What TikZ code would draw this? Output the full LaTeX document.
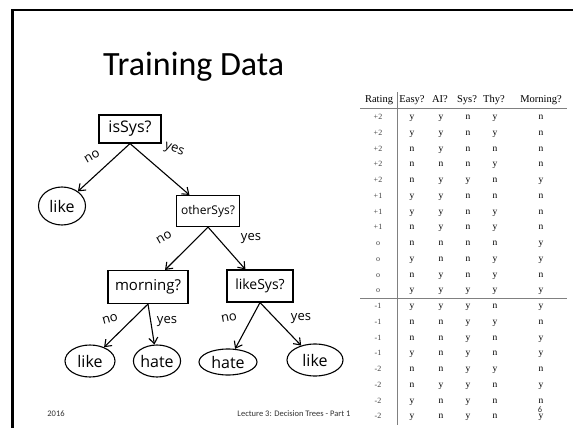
\documentclass[tikz,border=0pt]{standalone}
\usepackage{fontspec}
\setmainfont{Carlito}
\newfontfamily\handfont{Open Sans}
\newfontfamily\tabfont{Liberation Serif}
\usetikzlibrary{shapes.geometric, arrows.meta}
\tikzstyle{test} = [rectangle, draw, line width=1.1pt, inner sep=1pt, font=\handfont]
\tikzstyle{leaf} = [ellipse, draw, line width=1.1pt, inner sep=0pt, font=\handfont\fontsize{16}{16}\selectfont]
\tikzstyle{branch} = [-{Straight Barb[length=6pt,width=9pt]}, line width=1.1pt]
\tikzstyle{lbl} = [inner sep=0pt, font=\handfont\fontsize{13}{13}\selectfont]
\tikzstyle{cell} = [inner sep=0pt, anchor=base, font=\tabfont\fontsize{9.5}{10}\selectfont]
\tikzstyle{head} = [inner sep=0pt, anchor=base, font=\tabfont\fontsize{10.5}{11}\selectfont]
\tikzstyle{rule} = [draw=gray, line width=0.6pt]

\begin{document}
\begin{tikzpicture}[x=1pt, y=-1pt]
  \useasboundingbox (0,0) rectangle (573,428);
  \fill[white] (0,0) rectangle (573,428);
  \draw[line width=2.2pt] (12.5,428) -- (12.5,10) -- (573,10);

  % title
  \node[anchor=base west, inner sep=0pt, font=\fontsize{34}{34}\selectfont] (title) at (103,75) {Training Data};

  % tree
  \node[test, minimum width=62pt, minimum height=28pt, font=\handfont\fontsize{16}{16}\selectfont] (isSys) at (130,129) {isSys?};
  \node[leaf, minimum width=47pt, minimum height=38pt] (like1) at (62,206) {like};
  \node[test, minimum width=63pt, minimum height=31pt, font=\handfont\fontsize{12}{12}\selectfont] (otherSys) at (208,211) {otherSys?};
  \node[test, minimum width=80pt, minimum height=33pt, font=\handfont\fontsize{15}{15}\selectfont] (morning) at (148,287) {morning?};
  \node[test, minimum width=66pt, minimum height=32pt, font=\handfont\fontsize{14}{14}\selectfont] (likeSys) at (260,286) {likeSys?};
  \node[leaf, minimum width=50pt, minimum height=32pt] (like2) at (90,361) {like};
  \node[leaf, minimum width=46pt, minimum height=32pt] (hate1) at (157,361) {hate};
  \node[leaf, minimum width=58pt, minimum height=26pt] (hate2) at (228,362) {hate};
  \node[leaf, minimum width=56pt, minimum height=32pt] (like3) at (315,360) {like};

  \draw[branch] (isSys.south) -- (like1);
  \draw[branch] (isSys.south) -- (otherSys);
  \draw[branch] (otherSys.south) -- (morning);
  \draw[branch] (otherSys.south) -- (likeSys);
  \draw[branch] (morning.south) -- (like2);
  \draw[branch] (morning.south) -- (hate1);
  \draw[branch] (likeSys.south) -- (hate2);
  \draw[branch] (likeSys.south) -- (like3);

  % branch labels
  \node[lbl, rotate=30] (no1) at (92,157) {no};
  \node[lbl, rotate=-20] (yes1) at (174,150) {yes};
  \node[lbl, rotate=30] (no2) at (164,238) {no};
  \node[lbl] (yes2) at (251,239) {yes};
  \node[lbl, rotate=15] (no3) at (110,319) {no};
  \node[lbl] (yes3) at (167,322) {yes};
  \node[lbl, rotate=10] (no4) at (229,318) {no};
  \node[lbl] (yes4) at (301,319) {yes};

  % table
  \draw[rule] (397,92) -- (397,425);
  \draw[rule, line width=0.9pt] (360,108) -- (567,108);
  \draw[rule] (360,298.5) -- (567,298.5);
  \node[head] (hRating) at (379,102.5) {Rating};
  \node[head] (hEasy) at (412,102.5) {Easy?};
  \node[head] (hAI) at (440,102.5) {AI?};
  \node[head] (hSys) at (467,102.5) {Sys?};
  \node[head] (hThy) at (494,102.5) {Thy?};
  \node[head] (hMorning) at (541,102.5) {Morning?};
  \foreach \rt/\ea/\ai/\sy/\th/\mo [count=\i] in {+2/y/y/n/y/n, +2/y/y/n/y/n, +2/n/y/n/n/n, +2/n/n/n/y/n, +2/n/y/y/n/y,
      +1/y/y/n/n/n, +1/y/y/n/y/n, +1/n/y/n/y/n, o/n/n/n/n/y, o/y/n/n/y/y, o/n/y/n/y/n, o/y/y/y/y/y,
      -1/y/y/y/n/y, -1/n/n/y/y/n, -1/n/n/y/n/y, -1/y/n/y/n/y, -2/n/n/y/y/n, -2/n/y/y/n/y, -2/y/n/y/n/n, -2/y/n/y/n/y} {
    \pgfmathsetmacro{\ry}{119.5+(\i-1)*15.75}
    \node[cell, text=black!75, font=\tabfont\fontsize{8}{8}\selectfont] (rate\i) at (378,\ry) {\rt};
    \node[cell] (easy\i) at (412,\ry) {\ea};
    \node[cell] (ai\i) at (441,\ry) {\ai};
    \node[cell] (sys\i) at (468,\ry) {\sy};
    \node[cell] (thy\i) at (495,\ry) {\th};
    \node[cell] (morn\i) at (541,\ry) {\mo};
  }

  % footer
  \node[font=\fontsize{8.5}{8.5}\selectfont, text=black!80] (year) at (56,414) {2016};
  \node[font=\fontsize{8.5}{8.5}\selectfont, text=black!80] (lecture) at (294,414) {Lecture 3: Decision Trees - Part 1};
  \node[font=\fontsize{8.5}{8.5}\selectfont, text=black!80] (page) at (540,410) {6};
\end{tikzpicture}
\end{document}
